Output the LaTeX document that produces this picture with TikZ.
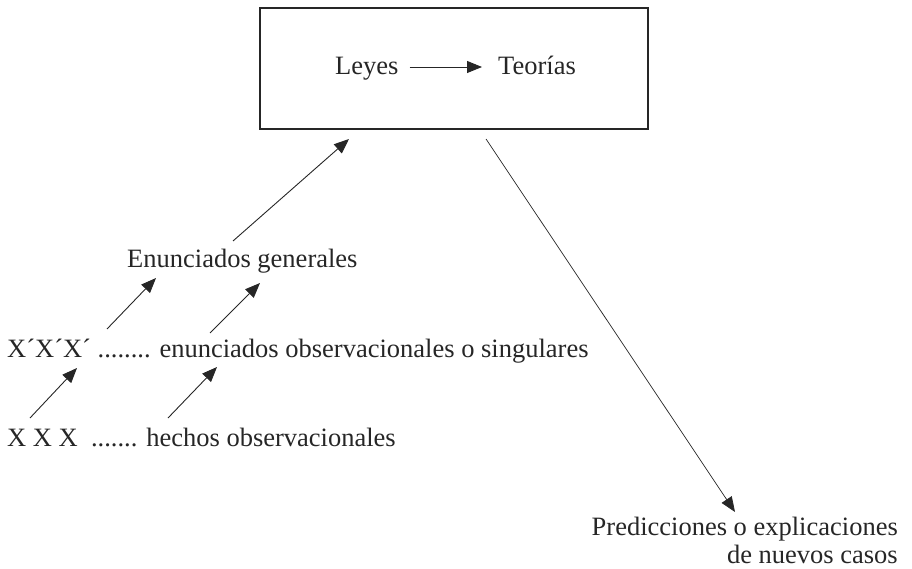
\documentclass[tikz,border=0pt]{standalone}
\usepackage{fontspec}
\setmainfont{Liberation Serif}
\usetikzlibrary{arrows.meta}

\definecolor{tinta}{gray}{0.15}

\begin{document}
\begin{tikzpicture}[x = 1pt, y = -1pt]
		\tikzstyle{every node} = [font = \fontsize{26.5}{28}\selectfont, text = tinta, inner sep = 0]
		\tikzstyle{flecha} = [tinta, line width = .9pt, -{Triangle[length = 15pt, width = 12pt]}]
		\useasboundingbox (0,0) rectangle (912,569);

		% recuadro de leyes y teorias
		\node [draw = tinta, line width = 2.6pt, minimum width = 388, minimum height = 121] (marco) at (454,68.5) {};
		\node [anchor = base west] (leyes) at (335,75) {Leyes};
		\node [anchor = base west] (teorias) at (498,75) {Teorías};
		\draw [flecha] ([xshift = 11pt, yshift = 8pt] leyes.base east) -- ([xshift = -16pt, yshift = 8pt] teorias.base west); %leyes to teorias

		% enunciados
		\node [anchor = base west] (generales) at (127,267) {Enunciados generales};
		\node [anchor = base west] (singulares) at (7,357) {X´X´X´ ........ enunciados observacionales o singulares};
		\node [anchor = base west] (hechos) at (7,446) {X X X \ ....... hechos observacionales};
		\node [anchor = north east, align = right] (predicciones) at (898,517) {Predicciones o explicaciones\\de nuevos casos};

		% puntas libres de las flechas
		\coordinate (g0) at (233,241);
		\coordinate (g1) at (349,139);
		\coordinate (s0) at (107,329);
		\coordinate (s1) at (156,278);
		\coordinate (s2) at (210,333);
		\coordinate (s3) at (260,283);
		\coordinate (h0) at (30,418);
		\coordinate (h1) at (77,368);
		\coordinate (h2) at (168,418);
		\coordinate (h3) at (217,367);
		\coordinate (p0) at (486,139);
		\coordinate (p1) at (735,512);

		\draw [flecha] (g0) -- (g1); %generales to marco
		\draw [flecha] (s0) -- (s1); %singulares to generales
		\draw [flecha] (s2) -- (s3);
		\draw [flecha] (h0) -- (h1); %hechos to singulares
		\draw [flecha] (h2) -- (h3);
		\draw [flecha, line width = .7pt] (p0) -- (p1); %marco to predicciones
\end{tikzpicture}
\end{document}
